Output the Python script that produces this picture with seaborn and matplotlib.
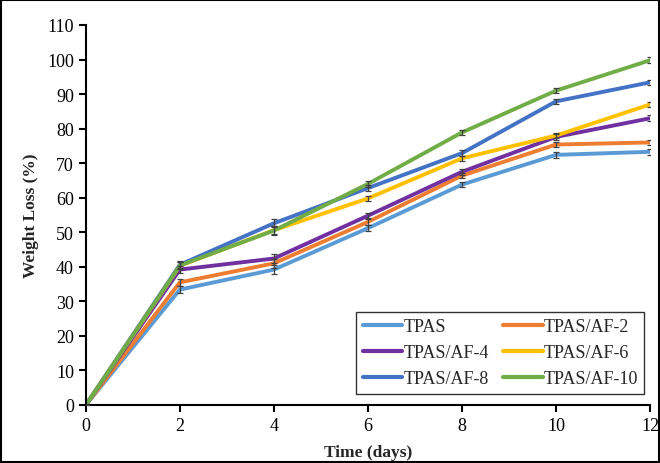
import numpy as np
import pandas as pd
import matplotlib
matplotlib.use("Agg")
import matplotlib.pyplot as plt
import seaborn as sns

days = [0, 2, 4, 6, 8, 10, 12]
samples = ["TPAS", "TPAS/AF-2", "TPAS/AF-4", "TPAS/AF-6", "TPAS/AF-8", "TPAS/AF-10"]

tpas = [0, 33.4, 39.2, 51.2, 63.8, 72.4, 73.3]
tpas_af2 = [0, 35.5, 41.0, 53.0, 66.4, 75.4, 76.0]
tpas_af4 = [0, 39.2, 42.4, 54.8, 67.5, 77.6, 83.0]
tpas_af6 = [0, 40.3, 50.6, 59.8, 71.4, 78.0, 87.0]
tpas_af8 = [0, 40.6, 52.6, 62.8, 72.9, 87.9, 93.4]
tpas_af10 = [0, 40.4, 50.5, 64.0, 78.9, 91.0, 99.8]

err = [0, 1.0, 1.2, 0.8, 0.8, 0.8, 0.8]

colors = ["#5B9BD5", "#ED7D31", "#7030A0", "#FFC000", "#4472C4", "#70AD47"]

series = [tpas, tpas_af2, tpas_af4, tpas_af6, tpas_af8, tpas_af10]
df = pd.DataFrame({
    "day": days * len(samples),
    "loss": sum(series, []),
    "sample": np.repeat(samples, len(days)),
})

sns.set_style("ticks")
plt.rcParams["font.family"] = ["Liberation Serif", "DejaVu Serif"]

fig = plt.figure(figsize=(6.6, 4.64), dpi=100)
ax = fig.add_axes([0.130, 0.125, 0.855, 0.819])

sns.lineplot(data=df, x="day", y="loss", hue="sample", palette=colors,
             hue_order=samples, linewidth=2.8, ax=ax, zorder=2)

for vals in series:
    ax.errorbar(days, vals, yerr=err, fmt="none", ecolor="#404040",
                elinewidth=0.9, capsize=2.5, capthick=0.9, zorder=3)

ax.set_xlim(0, 12)
ax.set_ylim(0, 110)
ax.set_xticks(range(0, 13, 2))
ax.set_yticks(range(0, 111, 10))
ax.tick_params(labelsize=13, width=1.5, length=5, direction="out", colors="black")
for s in ["left", "bottom"]:
    ax.spines[s].set_linewidth(1.5)
    ax.spines[s].set_color("black")
sns.despine(ax=ax)

ax.set_xlabel("Time (days)", fontsize=12.5, fontweight="bold", labelpad=7)
ax.set_ylabel("Weight Loss (%)", fontsize=12.5, fontweight="bold", labelpad=6)

# legend filled row by row, as in the original
handles, labels = ax.get_legend_handles_labels()
order = [0, 2, 4, 1, 3, 5]
leg = ax.legend([handles[i] for i in order], [labels[i] for i in order],
                loc="lower right", bbox_to_anchor=(0.99, 0.03), ncol=2,
                fontsize=13, frameon=True, fancybox=False, edgecolor="black",
                handlelength=2.2, handletextpad=0.05, columnspacing=0.8,
                labelspacing=0.5, borderpad=0.35, borderaxespad=0.0)
leg.get_frame().set_linewidth(1.0)
for line in leg.get_lines():
    line.set_linewidth(3)

fig.patches.append(plt.Rectangle((0.002, 0.002), 0.996, 0.996, transform=fig.transFigure,
                                 fill=False, edgecolor="black", linewidth=1.5))

fig.savefig("out.png", dpi=100)
